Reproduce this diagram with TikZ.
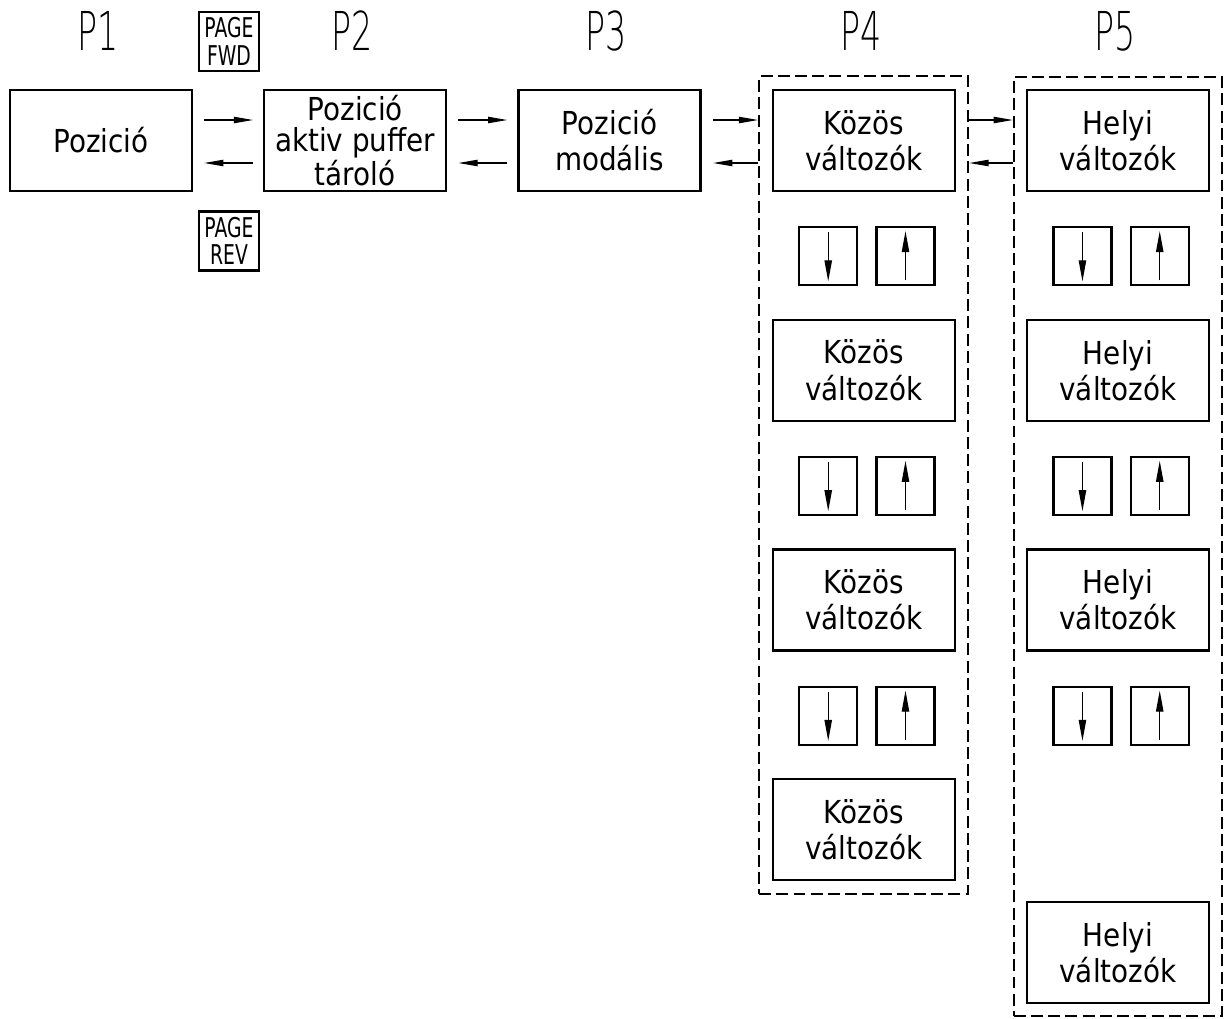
\documentclass[tikz,border=0pt]{standalone}
\usepackage{fontspec}
\setmainfont{DejaVu Sans}[FakeStretch=0.88]
\newfontfamily\titlefont{DejaVuSans-ExtraLight.ttf}[FakeStretch=0.62]
\newfontfamily\keyfont{DejaVu Sans}[FakeStretch=0.69]
\usetikzlibrary{arrows.meta, positioning, fit}

\tikzset{
  box/.style={draw, line width=1.3pt, minimum width=3.64cm, minimum height=2.02cm, inner sep=0pt, align=center, font=\fontsize{18}{20.5}\selectfont},
  arrbox/.style={draw, line width=1.3pt, minimum size=1.16cm, inner sep=0pt},
  pagebox/.style={draw, line width=1.2pt, minimum width=1.2cm, minimum height=1.18cm, inner sep=0pt, align=center, font=\keyfont\fontsize{15.5}{15.5}\selectfont},
  ptitle/.style={font=\titlefont\fontsize{30.5}{31}\selectfont, inner sep=0pt},
  groupframe/.style={draw, line width=1pt, dash pattern=on 6.8pt off 3pt},
  conn/.style={->, line width=0.7pt},
  keyarrow/.style={-{Triangle[length=12pt, width=4.2pt]}, line width=0.7pt},
}

\begin{document}
\begin{tikzpicture}[x=0.02cm, y=-0.02cm, >={Triangle[length=11pt, width=3.6pt]}, node distance=1.4cm]
  \useasboundingbox (0,0) rectangle (1226,1018);

  % top row
  \node[box] (p1) at (101,140.5) {Pozició};
  \node[box, right=of p1, font=\fontsize{18}{17.5}\selectfont] (p2) {Pozició\\aktiv puffer\\tároló};
  \node[box, right=of p2] (p3) {Pozició\\modális};
  \node[box, right=of p3] (k1) {Közös\\változók};
  \node[box, right=of k1] (h1) {Helyi\\változók};

  % P4 column
  \node[box, below=2.53cm of k1] (k2) {Közös\\változók};
  \node[box, below=2.53cm of k2] (k3) {Közös\\változók};
  \node[box, below=2.53cm of k3] (k4) {Közös\\változók};

  % P5 column
  \node[box, below=2.53cm of h1] (h2) {Helyi\\változók};
  \node[box, below=2.53cm of h2] (h3) {Helyi\\változók};
  \node[box, below=4.99cm of h3] (h4) {Helyi\\változók};

  % titles
  \foreach \n/\t in {p1/P1, p2/P2, p3/P3, k1/P4, h1/P5}
    \node[ptitle, anchor=base, xshift=-0.06cm] (t\t) at ([yshift=0.76cm]\n.north) {\t};

  % page keys
  \node[pagebox] (fwd) at (229,41.5) {PAGE\\FWD};
  \node[pagebox] (rev) at (229,241) {PAGE\\REV};

  % dashed groups
  \node[groupframe, fit=(k1)(k4), inner sep=0.25cm] (f4) {};
  \node[groupframe, fit=(h1)(h4), inner sep=0.24cm] (f5) {};

  % up/down keys
  \foreach \c in {k,h}
    \foreach \i in {1,2,3} {
      \node[arrbox, below=0.68cm of \c\i, xshift=-0.71cm] (\c d\i) {};
      \node[arrbox, right=0.34cm of \c d\i] (\c u\i) {};
      \draw[keyarrow] ([yshift=-0.12cm]\c d\i.north) -- ([yshift=0.1cm]\c d\i.south);
      \draw[keyarrow] ([yshift=0.12cm]\c u\i.south) -- ([yshift=-0.1cm]\c u\i.north);
    }

  % connectors
  \draw[conn, shorten <=0.22cm, shorten >=0.2cm] ([yshift=0.41cm]p1.east) -- ([yshift=0.41cm]p2.west);
  \draw[conn, shorten <=0.2cm, shorten >=0.22cm] ([yshift=-0.45cm]p2.west) -- ([yshift=-0.45cm]p1.east);
  \draw[conn, shorten <=0.22cm, shorten >=0.2cm] ([yshift=0.41cm]p2.east) -- ([yshift=0.41cm]p3.west);
  \draw[conn, shorten <=0.2cm, shorten >=0.22cm] ([yshift=-0.45cm]p3.west) -- ([yshift=-0.45cm]p2.east);
  \path ([yshift=0.41cm]p3.east) coordinate (a3) ([yshift=-0.45cm]p3.east) coordinate (b3);
  \draw[conn, shorten <=0.23cm] (a3) -- (a3 -| f4.west);
  \draw[conn, shorten >=0.23cm] (b3 -| f4.west) -- (b3);
  \path ([yshift=0.41cm]k1.east) coordinate (a4) ([yshift=-0.45cm]k1.east) coordinate (b4);
  \draw[conn] (a4 -| f4.east) -- (a4 -| f5.west);
  \draw[conn] (b4 -| f5.west) -- (b4 -| f4.east);
\end{tikzpicture}
\end{document}
